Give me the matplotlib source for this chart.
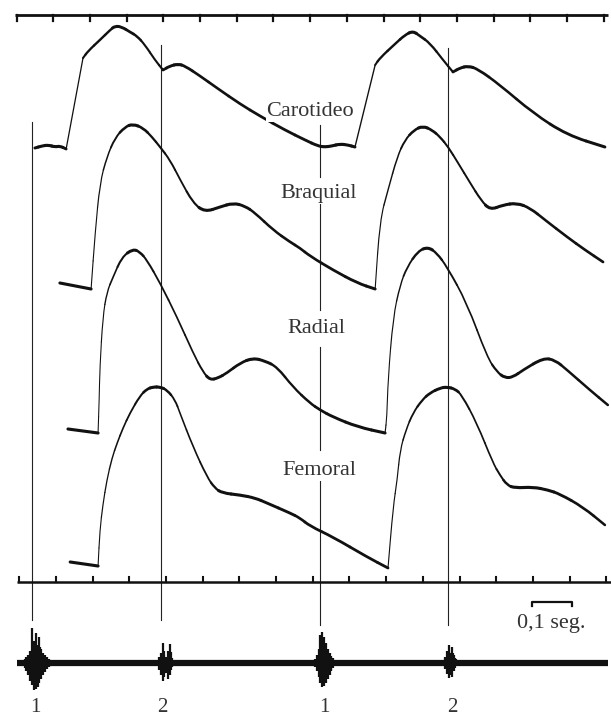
import numpy as np
import matplotlib
matplotlib.use("Agg")
import matplotlib.pyplot as plt
from matplotlib.collections import PathCollection
from matplotlib.path import Path

# ---------------- data (time in s, amplitude in arbitrary units) ----------------
carotid_t = [0.050, 0.069, 0.086, 0.105, 0.118, 0.135, 0.181, 0.195, 0.227, 0.255, 0.268,
             0.287, 0.309, 0.328, 0.350, 0.377, 0.399, 0.418, 0.440, 0.459, 0.500, 0.546,
             0.609, 0.663, 0.731, 0.786, 0.821, 0.840, 0.859, 0.881, 0.903, 0.922, 0.977,
             0.990, 1.031, 1.058, 1.080, 1.099, 1.126, 1.162, 1.189, 1.208, 1.230, 1.257,
             1.317, 1.407, 1.500, 1.603]
carotid_v = [0, 2, 3, 1, 2, -1, 90, 97, 108, 118, 122,
             121, 116, 112, 103, 88, 78, 82, 84, 82, 72, 60,
             44, 32, 18, 8, 2, 1, 2, 4, 3, 1, 83,
             90, 104, 113, 117, 112, 105, 88, 76, 80, 82, 79,
             63, 35, 13, 1]
carotid_corners = [5, 6, 16, 31, 32, 40]

brachial_t = [0.118, 0.203, 0.214, 0.227, 0.246, 0.268, 0.295, 0.317, 0.345, 0.369, 0.391,
              0.418, 0.446, 0.481, 0.513, 0.554, 0.590, 0.622, 0.650, 0.699, 0.745, 0.772,
              0.799, 0.862, 0.928, 0.977, 0.990, 1.012, 1.037, 1.058, 1.083, 1.107, 1.132,
              1.154, 1.176, 1.203, 1.236, 1.265, 1.290, 1.325, 1.363, 1.399, 1.440, 1.500,
              1.549, 1.598]
brachial_v = [6, 0, 56, 106, 132, 151, 162, 165, 161, 152, 142,
              129, 109, 86, 77, 82, 86, 83, 76, 59, 47, 41,
              33, 19, 6, 0, 69, 99, 132, 149, 159, 163, 159,
              152, 142, 126, 106, 89, 79, 84, 86, 81, 69, 52,
              39, 27]
brachial_corners = [1, 25]

radial_t = [0.140, 0.222, 0.225, 0.227, 0.235, 0.246, 0.263, 0.287, 0.317, 0.336, 0.355,
            0.391, 0.437, 0.481, 0.508, 0.527, 0.549, 0.573, 0.609, 0.644, 0.677, 0.710,
            0.753, 0.799, 0.827, 0.862, 0.930, 1.004, 1.009, 1.012, 1.026, 1.045, 1.064,
            1.094, 1.121, 1.145, 1.173, 1.227, 1.282, 1.309, 1.331, 1.353, 1.380, 1.435,
            1.467, 1.500, 1.562, 1.611]
radial_v = [4, 0, 33, 66, 116, 141, 156, 176, 184, 181, 173,
            150, 116, 80, 61, 53, 55, 60, 70, 75, 72, 66,
            46, 30, 23, 16, 6, 0, 16, 53, 116, 148, 166,
            182, 186, 180, 166, 130, 76, 61, 55, 56, 63, 75,
            73, 63, 43, 28]
radial_corners = [1, 27]

femoral_t = [0.146, 0.222, 0.227, 0.235, 0.246, 0.260, 0.274, 0.290, 0.309, 0.336, 0.355,
             0.372, 0.391, 0.410, 0.432, 0.445, 0.481, 0.519, 0.540, 0.560, 0.609, 0.650,
             0.682, 0.745, 0.772, 0.799, 0.862, 0.955, 1.012, 1.026, 1.037, 1.045, 1.061,
             1.080, 1.105, 1.126, 1.154, 1.173, 1.195, 1.213, 1.254, 1.298, 1.317, 1.336,
             1.358, 1.407, 1.448, 1.480, 1.543, 1.603]
femoral_v = [5, 1, 37, 62, 87, 109, 124, 139, 154, 171, 178,
             180, 180, 177, 167, 154, 120, 90, 79, 74, 72, 69,
             64, 54, 49, 41, 30, 10, -1, 60, 87, 117, 137,
             154, 167, 174, 179, 180, 178, 172, 144, 104, 92, 82,
             79, 80, 77, 73, 60, 42]
femoral_corners = [1, 28]

trace_names = ["Carotideo", "Braquial", "Radial", "Femoral"]

# heart sounds (phonocardiogram)
sound_labels = ["1", "2", "1", "2"]
sound_t = [0.042, 0.393, 0.827, 1.175]          # vertical reference lines
burst_start = [0.017, 0.383, 0.813, 1.162]
burst_up = [[3, 4, 6, 8, 12, 35, 22, 30, 18, 26, 14, 10, 8, 6, 4, 3],
            [3, 6, 10, 20, 8, 6, 12, 19, 5],
            [4, 8, 14, 28, 31, 26, 20, 14, 10, 7, 5, 3],
            [3, 6, 12, 18, 10, 16, 8, 4]]
burst_dn = [[3, 5, 8, 12, 18, 22, 27, 26, 24, 20, 16, 12, 9, 6, 4, 3],
            [3, 7, 12, 18, 14, 10, 16, 12, 4],
            [4, 8, 14, 20, 24, 23, 20, 16, 12, 8, 5, 3],
            [3, 6, 11, 15, 12, 14, 8, 3]]
burst_dt = 0.005

timer_ticks = [0.0, 0.1, 0.2, 0.3, 0.4, 0.5, 0.6, 0.7, 0.8, 0.9, 1.0, 1.1, 1.2, 1.3,
               1.4, 1.5, 1.6]
scale_label = "0,1 seg."

# ---------------- layout ----------------
W, H = 611, 716
fig = plt.figure(figsize=(W / 100, H / 100), dpi=100)
ax = fig.add_axes([0, 0, 1, 1])
ax.set_xlim(-0.0452, 1.6196)
ax.set_ylim(0, H)
ax.axis("off")

INK = "#111111"
TXT = "#333333"
serif = ["Liberation Serif", "DejaVu Serif"]

bases = [568, 427, 283, 149]
traces = [(carotid_t, carotid_v, carotid_corners), (brachial_t, brachial_v, brachial_corners),
          (radial_t, radial_v, radial_corners), (femoral_t, femoral_v, femoral_corners)]


def pen_width(p0, p1):
    d = ax.transData.transform(p1) - ax.transData.transform(p0)
    ang = np.arctan2(abs(d[1]), abs(d[0]) + 1e-9)
    return 0.75 + 1.5 * np.cos(ang) ** 1.3


def draw_trace(t, v, base, corners):
    P = np.column_stack([np.asarray(t, float), base + np.asarray(v, float)])
    cuts = sorted(set([0] + list(corners) + [len(P) - 1]))
    paths, widths = [], []
    for a, b in zip(cuts[:-1], cuts[1:]):
        sec = P[a:b + 1]
        n = len(sec)
        if n == 2:
            paths.append(Path(sec, [Path.MOVETO, Path.LINETO]))
            widths.append(pen_width(sec[0], sec[1]))
            continue
        mids = (sec[:-1] + sec[1:]) / 2
        # first straight half-segment
        paths.append(Path([sec[0], mids[0]], [Path.MOVETO, Path.LINETO]))
        widths.append(pen_width(sec[0], mids[0]))
        for i in range(1, n - 1):
            s, c, e = mids[i - 1], sec[i], mids[i]
            paths.append(Path([s, c, e], [Path.MOVETO, Path.CURVE3, Path.CURVE3]))
            widths.append(pen_width(s, e))
        paths.append(Path([mids[-1], sec[-1]], [Path.MOVETO, Path.LINETO]))
        widths.append(pen_width(mids[-1], sec[-1]))
    pc = PathCollection(paths, facecolors="none", edgecolors=INK, linewidths=widths,
                        transform=ax.transData, zorder=3, capstyle="round",
                        joinstyle="round")
    ax.add_collection(pc)


for (t, v, c), b in zip(traces, bases):
    draw_trace(t, v, b, c)

# vertical reference lines (1st and 2nd heart sound)
vl_kw = dict(color="#222222", lw=0.8, zorder=2)
ax.plot([sound_t[0]] * 2, [96, 594], **vl_kw)
ax.plot([sound_t[1]] * 2, [96, 671], **vl_kw)
for y0, y1 in [(539, 591), (406, 513), (266, 369), (91, 236)]:
    ax.plot([sound_t[2]] * 2, [y0, y1], **vl_kw)
ax.plot([sound_t[3]] * 2, [91, 668], **vl_kw)

# time rulers
ax.plot([-0.004, 1.611], [701, 701], color=INK, lw=2.0, solid_capstyle="butt")
for tk in timer_ticks:
    ax.plot([tk, tk], [701, 695.5], color=INK, lw=1.6)
ax.plot([0.001, 1.62], [134, 134], color=INK, lw=1.8, solid_capstyle="butt")
for tk in timer_ticks:
    ax.plot([tk + 0.007, tk + 0.007], [134, 139], color=INK, lw=1.5)

# trace labels
label_pos = [(0.800, 600), (0.824, 518), (0.816, 383), (0.824, 241)]
for name, (tx, ty) in zip(trace_names, label_pos):
    ax.text(tx, ty, name, family=serif, fontsize=16, color=TXT,
            ha="center", va="baseline", zorder=4,
            bbox=dict(facecolor="white", edgecolor="none", pad=0.5))

# scale bar
ax.plot([1.404, 1.404, 1.513, 1.513], [110, 114, 114, 110], color=INK, lw=1.6)
ax.text(1.458, 88, scale_label, family=serif, fontsize=16, color=TXT,
        ha="center", va="baseline")

# phonocardiogram
PB = 53
ax.plot([0.001, 1.611], [PB, PB], color=INK, lw=4.5, solid_capstyle="butt")
for st, up, dn in zip(burst_start, burst_up, burst_dn):
    tt = st + burst_dt * np.arange(len(up))
    ax.vlines(tt, PB - np.asarray(dn), PB + np.asarray(up), color=INK, lw=1.6)
    ax.vlines(tt + burst_dt / 2, PB - 0.6 * np.asarray(dn), PB + 0.6 * np.asarray(up),
              color=INK, lw=1.6)

label_t = [0.050, 0.396, 0.838, 1.186]
for lab, tx in zip(sound_labels, label_t):
    ax.text(tx, 4, lab, family=serif, fontsize=15, color=TXT,
            ha="center", va="baseline")

fig.savefig("out.png", dpi=100, facecolor="white")
